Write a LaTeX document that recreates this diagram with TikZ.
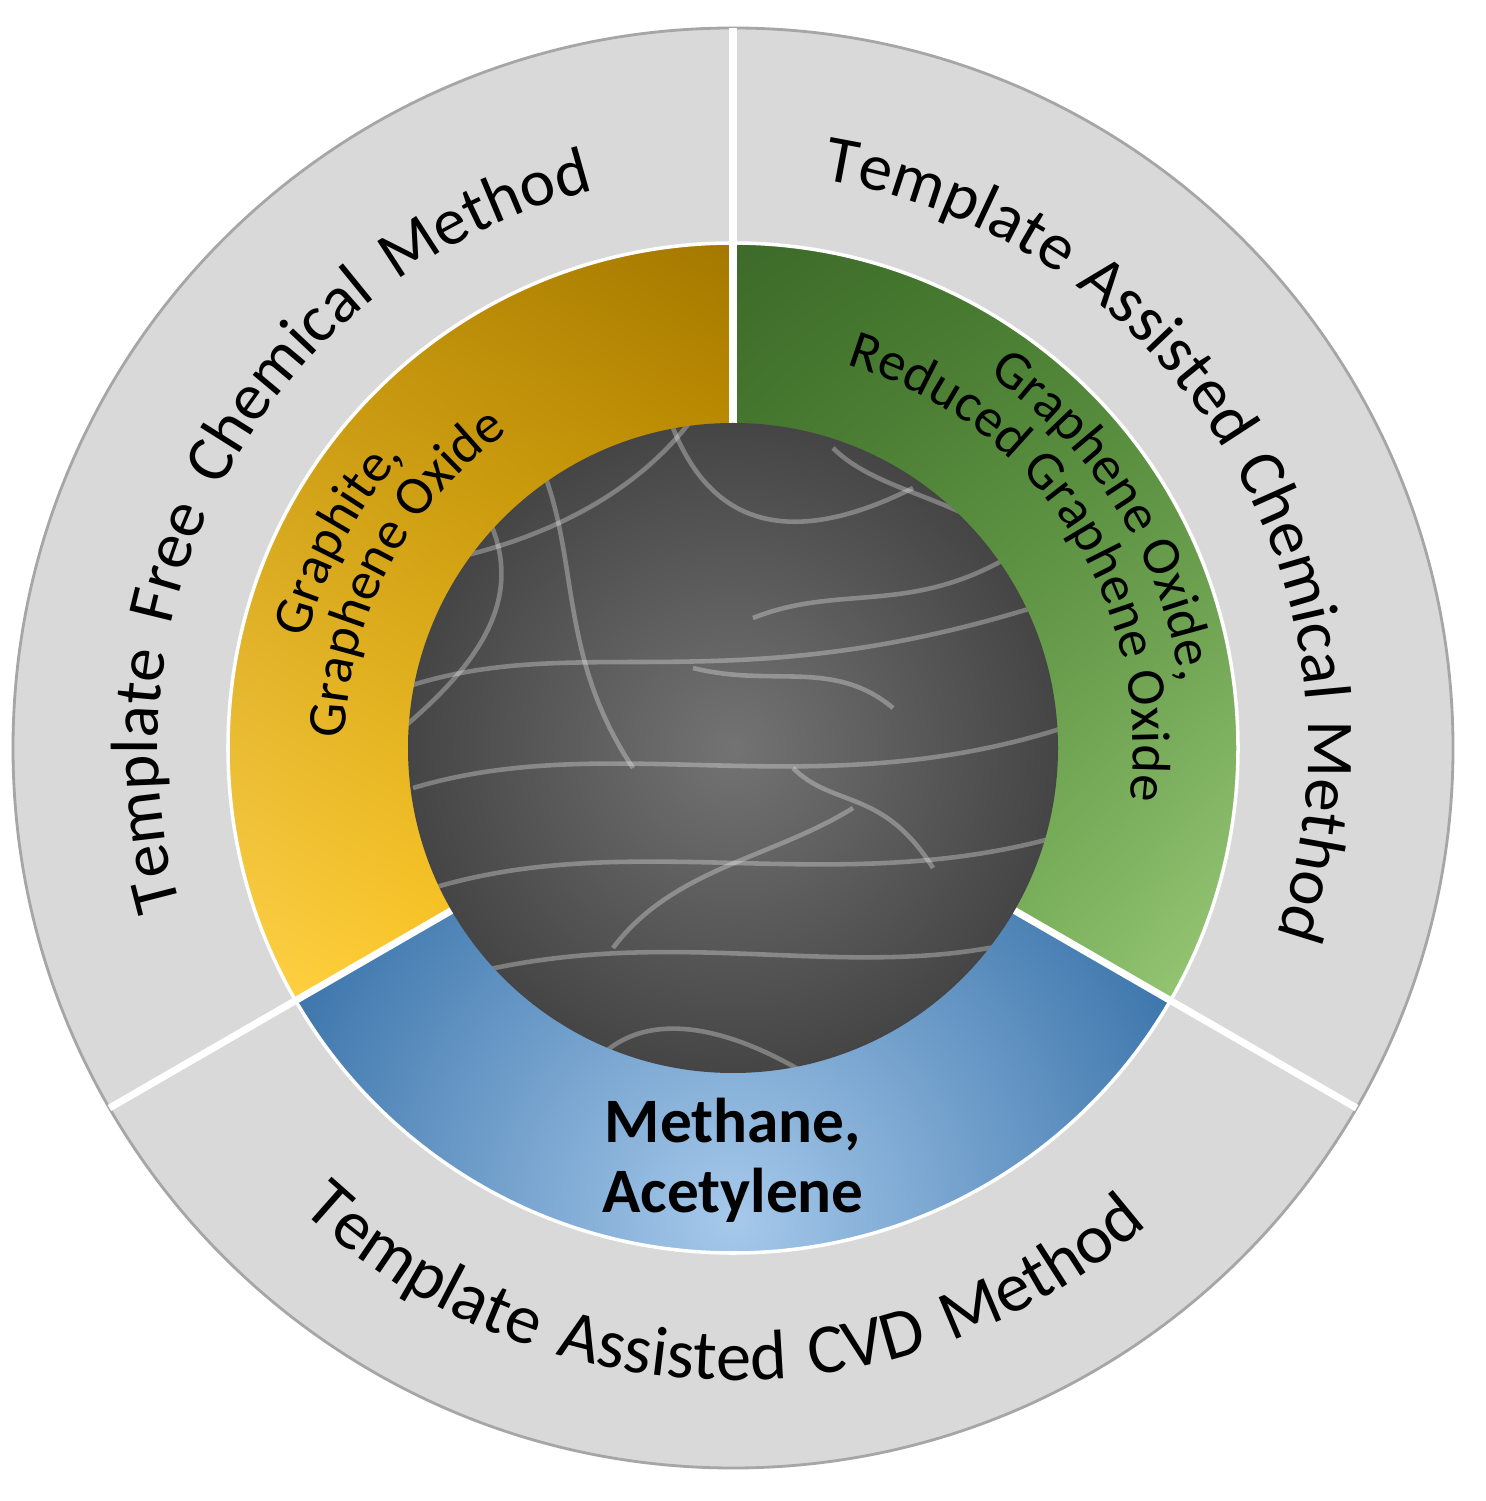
\documentclass[tikz,border=0pt]{standalone}
\usepackage{fontspec}
\setmainfont{Carlito}
\usetikzlibrary{decorations.text,shadings}
\definecolor{ring}{HTML}{D9D9D9}
\definecolor{ringedge}{HTML}{A6A6A6}
\definecolor{orUL}{HTML}{C3940A}
\definecolor{orUR}{HTML}{A47800}
\definecolor{orLL}{HTML}{FFD24A}
\definecolor{orLR}{HTML}{FFC000}
\definecolor{grUL}{HTML}{3D6A29}
\definecolor{grUR}{HTML}{4A8332}
\definecolor{grLL}{HTML}{5C9B3E}
\definecolor{grLR}{HTML}{9CCB7A}
\definecolor{blIn}{HTML}{A6C9EB}
\definecolor{blOut}{HTML}{2E6AA3}
\definecolor{semIn}{HTML}{737373}
\definecolor{semOut}{HTML}{454545}
\tikzset{
  outertext/.style={decorate,decoration={text along path,text align={fit to path stretching spaces},
    text={|\fontsize{19}{23}\selectfont|#1}}},
  bottomtext/.style={decorate,decoration={text along path,text align={fit to path stretching spaces},
    text={|\fontsize{20}{24}\selectfont|#1}}},
  midtext/.style={decorate,decoration={text along path,text align=center,
    text={|\fontsize{15.5}{19}\selectfont|#1}}},
  sheet/.style={white,opacity=.3,line width=1.3pt},
  divider/.style={white,line width=2pt}
}
\begin{document}
\begin{tikzpicture}[x=0.01cm,y=0.01cm]
\useasboundingbox (-733,-753) rectangle (753,748);
\fill[white] (-733,-753) rectangle (753,748);
% outer ring
\fill[ring,draw=ringedge,line width=0.8pt] (0,0) circle (720);
% orange sector
\begin{scope}
\clip (0,0) -- (90:505) arc[start angle=90,end angle=210,radius=505] -- cycle;
\shade[upper left=orUL,upper right=orUR,lower left=orLL,lower right=orLR] (-505,-260) rectangle (0,505);
\end{scope}
% green sector
\begin{scope}
\clip (0,0) -- (90:505) arc[start angle=90,end angle=-30,radius=505] -- cycle;
\shade[upper left=grUL,upper right=grUR,lower left=grLL,lower right=grLR] (0,-260) rectangle (505,505);
\end{scope}
% blue sector
\begin{scope}
\clip (0,0) -- (210:505) arc[start angle=210,end angle=330,radius=505] -- cycle;
\shade[inner color=blIn,outer color=blOut] (0,-470) circle (560);
\end{scope}
\draw[white,line width=1pt] (0,0) circle (505);
% dividers
\draw[divider] (0,0) -- (90:720);
\draw[divider] (0,0) -- (210:720);
\draw[divider] (0,0) -- (330:720);
% SEM disc
\shade[inner color=semIn,outer color=semOut] (0,0) circle (325);
\begin{scope}
\clip (0,0) circle (325);
\draw[sheet] (-330,60) .. controls (-150,120) and (0,40) .. (330,150);
\draw[sheet] (-320,-40) .. controls (-120,20) and (80,-60) .. (330,20);
\draw[sheet] (-300,-140) .. controls (-100,-80) and (100,-150) .. (320,-90);
\draw[sheet] (-280,-230) .. controls (-60,-170) and (120,-240) .. (300,-190);
\draw[sheet] (-200,300) .. controls (-150,200) and (-180,100) .. (-100,-20);
\draw[sheet] (-60,320) .. controls (-20,220) and (60,200) .. (180,260);
\draw[sheet] (-330,180) .. controls (-200,200) and (-100,250) .. (-40,330);
\draw[sheet] (20,130) .. controls (120,170) and (200,120) .. (330,230);
\draw[sheet] (-150,-330) .. controls (-100,-250) and (0,-280) .. (80,-330);
\draw[sheet] (60,-20) .. controls (100,-60) and (150,-40) .. (200,-120);
\draw[sheet] (-250,240) .. controls (-200,150) and (-260,80) .. (-330,20);
\draw[sheet] (100,300) .. controls (150,250) and (250,250) .. (300,180);
\draw[sheet] (-120,-200) .. controls (-60,-120) and (40,-110) .. (120,-60);
\draw[sheet] (-40,80) .. controls (40,60) and (100,90) .. (160,40);
\end{scope}
% outer texts
\path[outertext={Template Free Chemical Method}] (196:575) arc[start angle=196,end angle=104,radius=575];
\path[outertext={Template Assisted Chemical Method}] (81:575) arc[start angle=81,end angle=-19,radius=575];
\path[bottomtext={Template Assisted CVD Method}] (227:632) arc[start angle=227,end angle=311,radius=632];
% middle texts
\path[midtext={Graphite,}] (200:440) arc[start angle=200,end angle=104,radius=440];
\path[midtext={Graphene Oxide}] (200:388) arc[start angle=200,end angle=104,radius=388];
\path[midtext={Graphene Oxide,}] (80:452) arc[start angle=80,end angle=-16,radius=452];
\path[midtext={Reduced Graphene Oxide}] (85:400) arc[start angle=85,end angle=-19,radius=400];
\node[font=\bfseries\fontsize{18}{20}\selectfont,align=center] (gas) at (0,-412) {Methane,\\Acetylene};
\end{tikzpicture}
\end{document}
